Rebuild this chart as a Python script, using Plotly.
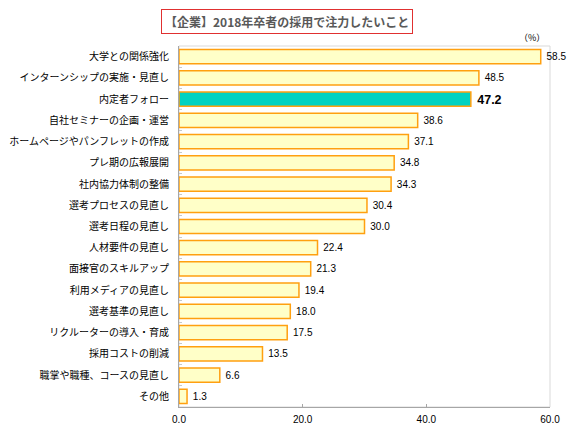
import plotly.graph_objects as go

categories = ["大学との関係強化", "インターンシップの実施・見直し", "内定者フォロー",
              "自社セミナーの企画・運営", "ホームページやパンフレットの作成", "プレ期の広報展開",
              "社内協力体制の整備", "選考プロセスの見直し", "選考日程の見直し",
              "人材要件の見直し", "面接官のスキルアップ", "利用メディアの見直し",
              "選考基準の見直し", "リクルーターの導入・育成", "採用コストの削減",
              "職掌や職種、コースの見直し", "その他"]
values = [58.5, 48.5, 47.2, 38.6, 37.1, 34.8, 34.3, 30.4, 30.0, 22.4, 21.3, 19.4,
          18.0, 17.5, 13.5, 6.6, 1.3]
highlight = "内定者フォロー"
tick_vals = [0, 20, 40, 60]
tick_text = ["0.0", "20.0", "40.0", "60.0"]

# page has an 8px body margin: figure coords = page coords - 8
OFF = 8
W, H = 576 - OFF, 428 - OFF
ml, mt = 179 - OFF, 46 - OFF
mr = W - (550 - OFF)
mb = H - (407 - OFF)
pw, ph = W - ml - mr, H - mt - mb

colors = ["#00D2C1" if c == highlight else "#FFFFC8" for c in categories]
labels = [f"\u00a0<b>{v:.1f}</b>" if c == highlight else f"\u00a0{v:.1f}"
          for c, v in zip(categories, values)]
sizes = [14 if c == highlight else 10 for c in categories]

fig = go.Figure(go.Bar(
    x=values, y=categories, orientation="h",
    marker=dict(color=colors, line=dict(color="#FFA010", width=1.5)),
    text=labels, textposition="outside", cliponaxis=False,
    textfont=dict(family="Liberation Sans, Arial", size=sizes, color="#000000"),
    width=0.67,
))

fig.update_layout(
    width=W, height=H,
    margin=dict(l=ml, r=mr, t=mt, b=mb, autoexpand=False),
    paper_bgcolor="white", plot_bgcolor="white",
    showlegend=False,
    xaxis=dict(range=[0, 60], tickvals=tick_vals, ticktext=tick_text, automargin=False,
               showgrid=False, zeroline=False, showline=True, linecolor="#A6A6A6",
               ticks="inside", ticklen=3, tickcolor="#A6A6A6", ticklabelstandoff=3,
               tickfont=dict(family="Liberation Sans, Arial", size=10, color="#000")),
    yaxis=dict(autorange="reversed", showgrid=False, showline=True, linecolor="#A6A6A6",
               ticks="inside", tickson="boundaries", ticklen=3, tickcolor="#C8C8C8",
               ticklabelstandoff=7, automargin=False,
               tickfont=dict(family="Noto Sans CJK JP", size=10, color="#000")),
    font=dict(family="Noto Sans CJK JP"),
    shapes=[dict(type="rect", xref="paper", yref="paper", x0=0, x1=1, y0=0, y1=1,
                 line=dict(color="#D9D9D9", width=1), layer="below")],
)

fig.add_annotation(
    xref="paper", yref="paper", x=(287 - OFF - ml) / pw, y=1 + (mt - (22 - OFF)) / ph,
    xanchor="center", yanchor="middle",
    text="<b>【企業】2018年卒者の採用で注力したいこと</b>", showarrow=False,
    font=dict(family="Noto Sans CJK JP", size=12, color="#595959"),
    bordercolor="#E03030", borderwidth=1, borderpad=3, bgcolor="white",
)
fig.add_annotation(
    xref="paper", yref="paper", x=(532 - OFF - ml) / pw, y=1 + (mt - (38 - OFF)) / ph,
    xanchor="center", yanchor="middle",
    text="（%）", showarrow=False,
    font=dict(family="Noto Sans CJK JP", size=9, color="#000"),
)

fig.write_html("out.html")
